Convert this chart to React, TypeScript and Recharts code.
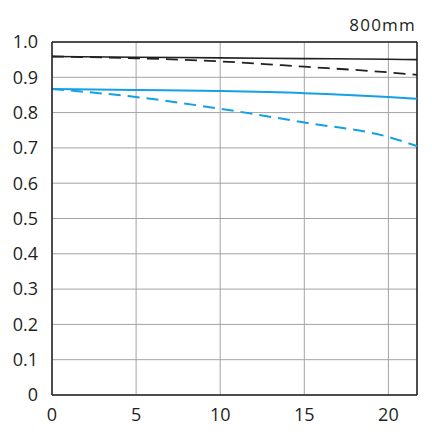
import React from 'react';
import { LineChart, Line, XAxis, YAxis, CartesianGrid, ReferenceLine } from 'recharts';

const imageHeight = [0, 5, 10, 15, 20, 21.7];
const wideSagittal = [0.959, 0.957, 0.955, 0.953, 0.951, 0.95];
const wideMeridional = [0.959, 0.954, 0.945, 0.93, 0.914, 0.907];
const fineSagittal = [0.867, 0.864, 0.861, 0.855, 0.844, 0.839];
const fineMeridional = [0.867, 0.844, 0.811, 0.772, 0.731, 0.705];

const xTicks = [0, 5, 10, 15, 20];
const yTicks = [0, 0.1, 0.2, 0.3, 0.4, 0.5, 0.6, 0.7, 0.8, 0.9, 1.0];
const title = '800mm';

const data = imageHeight.map((x, i) => ({
  x,
  ws: wideSagittal[i],
  wm: wideMeridional[i],
  fs: fineSagittal[i],
  fm: fineMeridional[i],
}));

const INK = '#231f20';
const BLUE = '#14a0e4';
const FONT = '"Open Sans", sans-serif';

const fmtY = (v: number) => (v === 0 ? '0' : v.toFixed(1));

const App: React.FC = () => (
  <div style={{ position: 'absolute', left: 0, top: 0, width: 432, height: 438, background: '#fff' }}>
    <div
      style={{
        position: 'absolute',
        right: 16,
        top: 15,
        fontFamily: FONT,
        fontSize: 17,
        letterSpacing: '1.2px',
        color: INK,
        lineHeight: '20px',
      }}
    >
      {title}
    </div>
    <LineChart width={432} height={438} data={data} margin={{ top: 42, right: 15, bottom: 13, left: 0 }}>
      <CartesianGrid stroke="#a3a3a3" strokeWidth={1} />
      <XAxis
        dataKey="x"
        type="number"
        domain={[0, 21.7]}
        ticks={xTicks}
        interval={0}
        height={30}
        tickSize={0}
        tickMargin={13}
        axisLine={{ stroke: INK, strokeWidth: 1.5 }}
        tick={{ fill: INK, fontSize: 18, fontFamily: FONT }}
      />
      <YAxis
        type="number"
        domain={[0, 1]}
        ticks={yTicks}
        interval={0}
        width={52}
        tickSize={0}
        tickMargin={14}
        tickFormatter={fmtY}
        axisLine={{ stroke: INK, strokeWidth: 1.5 }}
        tick={{ fill: INK, fontSize: 18, fontFamily: FONT }}
      />
      <ReferenceLine y={1} stroke={INK} strokeWidth={1.5} />
      <ReferenceLine x={21.7} stroke={INK} strokeWidth={1.5} />
      <Line type="monotone" dataKey="ws" stroke={INK} strokeWidth={1.6} dot={false} isAnimationActive={false} />
      <Line
        type="monotone"
        dataKey="wm"
        stroke={INK}
        strokeWidth={1.8}
        strokeDasharray="12 7"
        dot={false}
        isAnimationActive={false}
      />
      <Line type="monotone" dataKey="fs" stroke={BLUE} strokeWidth={2} dot={false} isAnimationActive={false} />
      <Line
        type="monotone"
        dataKey="fm"
        stroke={BLUE}
        strokeWidth={2}
        strokeDasharray="12 7"
        dot={false}
        isAnimationActive={false}
      />
    </LineChart>
  </div>
);

export default App;
